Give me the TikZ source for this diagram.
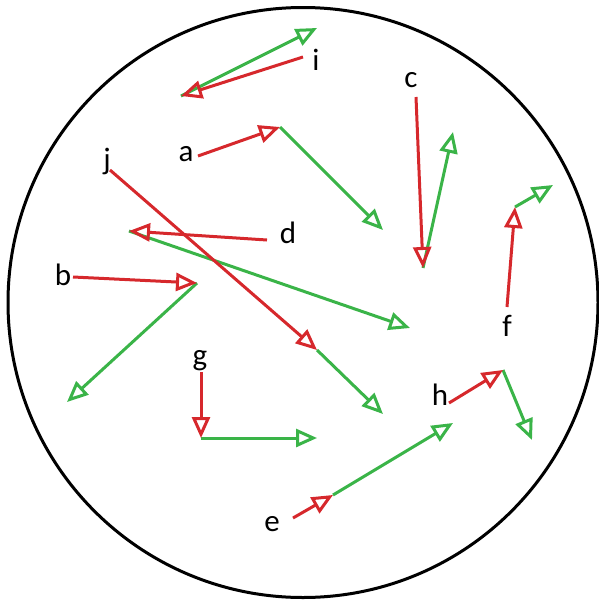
\documentclass[tikz,border=0pt]{standalone}
\usepackage{fontspec}
\setmainfont{Carlito}
\usetikzlibrary{arrows.meta}
\definecolor{vred}{RGB}{214,40,44}
\definecolor{vgreen}{RGB}{58,180,72}
\begin{document}
\begin{tikzpicture}[x=1pt,y=-1pt,
  vec/.style={line width=3pt, -{Triangle[open,length=21pt,width=18pt]}, line join=miter},
  redvec/.style={vec, draw=vred},
  greenvec/.style={vec, draw=vgreen},
  lbl/.style={font=\fontsize{31}{31}\selectfont, inner sep=0pt, text=black}]
\useasboundingbox (0,0) rectangle (599,603);
\draw[line width=3pt, black] (303,302.5) circle [radius=295];
% coordinates
\coordinate (i0) at (303,57); \coordinate (i1) at (181,96); \coordinate (i2) at (317,28);
\coordinate (a0) at (198,156); \coordinate (a1) at (280,127); \coordinate (a2) at (383,230);
\coordinate (d0) at (267,240); \coordinate (d1) at (129,231); \coordinate (d2) at (410,328);
\coordinate (j0) at (110,170); \coordinate (j1) at (317,350); \coordinate (j2) at (383,414);
\coordinate (b0) at (73,277); \coordinate (b1) at (197,283); \coordinate (b2) at (67,402);
\coordinate (g0) at (201,372); \coordinate (g1) at (201,438); \coordinate (g2) at (317,438);
\coordinate (c0) at (416,97); \coordinate (c1) at (423,268); \coordinate (c2) at (453,132);
\coordinate (f0) at (507,307); \coordinate (f1) at (515,207); \coordinate (f2) at (553,185);
\coordinate (h0) at (449,403); \coordinate (h1) at (503,370); \coordinate (h2) at (532,440);
\coordinate (e0) at (293,518); \coordinate (e1) at (333,495); \coordinate (e2) at (453,423);
% labels
\node[lbl] (li) at (316,60) {i};
\node[lbl] (la) at (186,154) {a};
\node[lbl] (ld) at (288,233) {d};
\node[lbl] (lj) at (107,161) {j};
\node[lbl] (lb) at (63,275) {b};
\node[lbl] (lg) at (200,361) {g};
\node[lbl] (lc) at (411,80) {c};
\node[lbl] (lf) at (507,326) {f};
\node[lbl] (lh) at (440,395) {h};
\node[lbl] (le) at (272,524) {e};
% green vectors
\draw[greenvec] (i1) -- (i2);
\draw[greenvec] (a1) -- (a2);
\draw[greenvec] (d1) -- (d2);
\draw[greenvec] (j1) -- (j2);
\draw[greenvec] (b1) -- (b2);
\draw[greenvec] (g1) -- (g2);
\draw[greenvec] (c1) -- (c2);
\draw[greenvec] (f1) -- (f2);
\draw[greenvec] (h1) -- (h2);
\draw[greenvec] (e1) -- (e2);
% red vectors
\draw[redvec] (i0) -- (i1);
\draw[redvec] (a0) -- (a1);
\draw[redvec] (d0) -- (d1);
\draw[redvec] (j0) -- (j1);
\draw[redvec] (b0) -- (b1);
\draw[redvec] (g0) -- (g1);
\draw[redvec] (c0) -- (c1);
\draw[redvec] (f0) -- (f1);
\draw[redvec] (h0) -- (h1);
\draw[redvec] (e0) -- (e1);
\end{tikzpicture}
\end{document}
